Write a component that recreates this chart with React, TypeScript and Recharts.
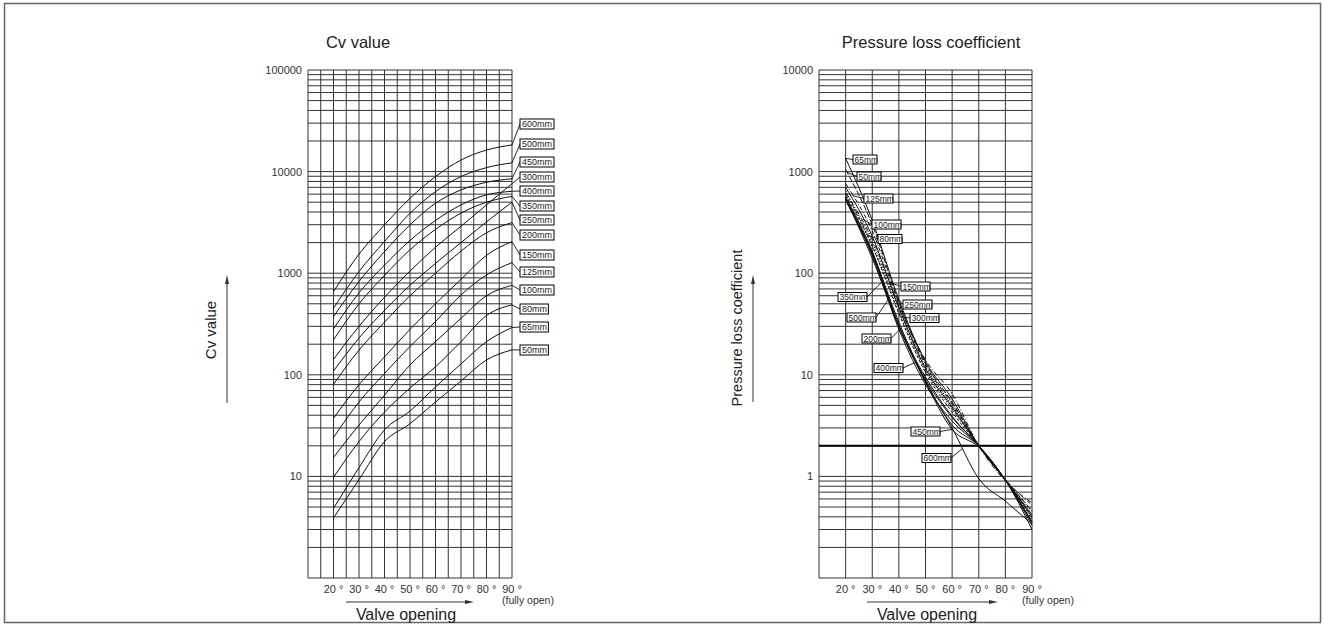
import { LineChart, Line, XAxis, YAxis, CartesianGrid, ReferenceDot, ReferenceLine } from 'recharts'

// valve opening (deg) where each curve is read
const openings = [20, 30, 40, 50, 60, 70, 80, 90]

// Cv value per nominal size
const cv50 = [3.9, 9.3, 22, 33, 54, 87, 140, 176]
const cv65 = [4.85, 12.2, 28.7, 44, 76, 128, 212, 292]
const cv80 = [9.8, 22, 43, 74, 120, 212, 383, 488]
const cv100 = [15.4, 32, 63, 125, 212, 360, 600, 760]
const cv125 = [24.1, 54, 103, 190, 334, 611, 961, 1270]
const cv150 = [37.3, 80, 150, 280, 500, 870, 1500, 2050]
const cv200 = [80.6, 175, 330, 600, 1000, 1650, 2500, 3150]
const cv250 = [109, 230, 430, 760, 1250, 2000, 3200, 5000]
const cv300 = [142, 300, 580, 1050, 1800, 2900, 4700, 7600]
const cv350 = [221, 500, 950, 1700, 2700, 3900, 5000, 5700]
const cv400 = [283, 640, 1200, 2100, 3300, 4700, 5900, 6400]
const cv450 = [374, 830, 1630, 2990, 4880, 6600, 7850, 8500]
const cv500 = [452, 1040, 2050, 3890, 6350, 8940, 10940, 12200]
const cv600 = [660, 1540, 2990, 5460, 8930, 13000, 16300, 18300]

// pressure loss coefficient per nominal size
const loss50 = [1050, 300, 52, 13, 5.4, 2.0, 0.93, 0.46]
const loss65 = [1350, 330, 55, 13.5, 5.8, 2.0, 0.92, 0.42]
const loss80 = [650, 185, 42, 11, 4.6, 2.0, 0.92, 0.38]
const loss100 = [700, 230, 46, 11.5, 4.8, 2.0, 0.92, 0.4]
const loss125 = [760, 260, 50, 12.5, 5.2, 2.0, 0.93, 0.52]
const loss150 = [620, 215, 48, 14, 6.5, 2.0, 0.9, 0.55]
const loss200 = [560, 165, 30, 9.0, 3.8, 2.0, 0.92, 0.35]
const loss250 = [600, 200, 45, 12, 5.0, 2.0, 0.92, 0.45]
const loss300 = [580, 185, 40, 10.5, 4.3, 2.0, 0.92, 0.4]
const loss350 = [540, 140, 30, 9.5, 3.9, 2.0, 0.92, 0.36]
const loss400 = [520, 150, 28, 8.0, 3.5, 2.0, 0.92, 0.33]
const loss450 = [530, 155, 31, 8.5, 2.9, 1.95, 0.92, 0.3]
const loss500 = [540, 160, 33, 8.8, 3.2, 2.0, 0.92, 0.35]
const loss600 = [560, 150, 30, 8.5, 3.0, 0.95, 0.57, 0.34]

const sizes = ['50mm', '65mm', '80mm', '100mm', '125mm', '150mm', '200mm', '250mm', '300mm', '350mm', '400mm', '450mm', '500mm', '600mm']
const cvValues = [cv50, cv65, cv80, cv100, cv125, cv150, cv200, cv250, cv300, cv350, cv400, cv450, cv500, cv600]
const lossValues = [loss50, loss65, loss80, loss100, loss125, loss150, loss200, loss250, loss300, loss350, loss400, loss450, loss500, loss600]

const degreeLabels = [20, 30, 40, 50, 60, 70, 80, 90]
const cvTickLabels = [10, 100, 1000, 10000, 100000]
const lossTickLabels = [1, 10, 100, 1000, 10000]

const W = 1324
const H = 626
const YW = 40 // y axis band width
const XH = 20 // x axis band height

const cvRows = openings.map((deg, i) => {
  const row: Record<string, number> = { deg }
  sizes.forEach((s, j) => (row[s] = cvValues[j][i]))
  return row
})
const lossRows = openings.map((deg, i) => {
  const row: Record<string, number> = { deg }
  sizes.forEach((s, j) => (row[s] = lossValues[j][i]))
  return row
})

const logTicks = (decades: number[], top: number) => [
  ...decades.flatMap((d) => [1, 2, 3, 4, 5, 6, 7, 8, 9].map((k) => k * d)),
  top,
]
const cvTicks = logTicks([1, 10, 100, 1000, 10000], 100000)
const lossTicks = logTicks([0.1, 1, 10, 100, 1000], 10000)

const fmtDeg = (v: number) => (degreeLabels.includes(v) ? `${v} °` : '')
const fmtLog = (labels: number[]) => (v: number) =>
  labels.some((l) => Math.abs(l - v) < 1e-9) ? String(v) : ''

// label placement (page pixels)
const cvTagY: Record<string, number> = {
  '600mm': 124, '500mm': 144, '450mm': 162, '300mm': 177, '400mm': 191, '350mm': 206, '250mm': 220,
  '200mm': 235, '150mm': 255, '125mm': 272, '100mm': 290, '80mm': 309, '65mm': 327, '50mm': 350,
}
const lossTags = [
  { size: '65mm', deg: 20, x: 853, y: 159.5, side: 'r' },
  { size: '50mm', deg: 20.5, x: 857, y: 176.5, side: 'r' },
  { size: '125mm', deg: 22.5, x: 864, y: 198.5, side: 'r' },
  { size: '100mm', deg: 26.5, x: 872, y: 224.5, side: 'r' },
  { size: '80mm', deg: 28, x: 878, y: 239, side: 'r' },
  { size: '150mm', deg: 36.5, x: 901, y: 286.5, side: 'r' },
  { size: '350mm', deg: 33.5, x: 838, y: 297, side: 'l' },
  { size: '250mm', deg: 37.5, x: 903, y: 304.5, side: 'r' },
  { size: '500mm', deg: 36.5, x: 847, y: 317.5, side: 'l' },
  { size: '300mm', deg: 40.5, x: 910, y: 318, side: 'r' },
  { size: '200mm', deg: 40.5, x: 862, y: 338.5, side: 'l' },
  { size: '400mm', deg: 46, x: 874, y: 368, side: 'l' },
  { size: '450mm', deg: 60, x: 911, y: 431.5, side: 'l' },
  { size: '600mm', deg: 64, x: 922, y: 458, side: 'l' },
]

const lossDash: Record<string, string | undefined> = {
  '50mm': '6 2',
  '80mm': '1.5 1.5',
  '125mm': '4 2 1 2',
  '150mm': '5 2 1 2',
  '250mm': '1.5 1.5',
  '300mm': '3 2',
}

const valueAt = (vals: number[], deg: number) => {
  let i = 0
  while (i < openings.length - 2 && deg > openings[i + 1]) i++
  const t = (deg - openings[i]) / (openings[i + 1] - openings[i])
  return Math.pow(10, Math.log10(vals[i]) + t * (Math.log10(vals[i + 1]) - Math.log10(vals[i])))
}

const GRID = '#333'
const INK = '#111'
const tickStyle = { fontSize: 11, fill: '#333' }

export default function App() {
  return (
    <div style={{ position: 'absolute', left: 0, top: 0, width: W, height: H, fontFamily: '"Liberation Sans", Arial, sans-serif', background: '#fff' }}>
      <div style={{ position: 'absolute', left: 0, top: 0 }}>
        <LineChart width={W} height={H} data={cvRows} margin={{ top: 70, right: W - 512, bottom: H - 578 - XH, left: 308 - YW }}>
          <CartesianGrid stroke={GRID} strokeWidth={1} />
          <XAxis dataKey="deg" type="number" domain={[10, 90]} ticks={[10, 15, 20, 25, 30, 35, 40, 45, 50, 55, 60, 65, 70, 75, 80, 85, 90]}
            interval={0} tickFormatter={fmtDeg} height={XH} tickSize={0} tickMargin={7} axisLine={false} tickLine={false}
            tick={tickStyle} />
          <YAxis type="number" scale="log" domain={[1, 100000]} ticks={cvTicks} allowDataOverflow interval={0}
            tickFormatter={fmtLog(cvTickLabels)} width={YW} tickSize={0} tickMargin={6} axisLine={false} tickLine={false}
            tick={tickStyle} />
          {sizes.map((s) => (
            <Line key={s} dataKey={s} type="monotone" stroke={INK} strokeWidth={1} dot={false} isAnimationActive={false} />
          ))}
          {sizes.map((s, j) => (
            <ReferenceDot key={'t' + s} x={90} y={cvValues[j][openings.length - 1]} ifOverflow="visible"
              shape={(p: any) => {
                const bw = s.length * 5.6 + 6
                const ly = cvTagY[s]
                return (
                  <g>
                    <line x1={p.cx} y1={p.cy} x2={520} y2={ly} stroke={INK} strokeWidth={0.9} />
                    <rect x={520} y={ly - 5} width={bw} height={10} fill="#fff" stroke="#000" strokeWidth={1} />
                    <text x={522} y={ly + 3.3} fontSize={9} fill="#222">{s}</text>
                  </g>
                )
              }} />
          ))}
        </LineChart>
      </div>

      <div style={{ position: 'absolute', left: 0, top: 0 }}>
        <LineChart width={W} height={H} data={lossRows} margin={{ top: 70, right: W - 1032, bottom: H - 578 - XH, left: 819 - YW }}>
          <CartesianGrid stroke={GRID} strokeWidth={1} />
          <XAxis dataKey="deg" type="number" domain={[10, 90]} ticks={[10, 20, 30, 40, 50, 60, 70, 80, 90]}
            interval={0} tickFormatter={fmtDeg} height={XH} tickSize={0} tickMargin={7} axisLine={false} tickLine={false}
            tick={tickStyle} />
          <YAxis type="number" scale="log" domain={[0.1, 10000]} ticks={lossTicks} allowDataOverflow interval={0}
            tickFormatter={fmtLog(lossTickLabels)} width={YW} tickSize={0} tickMargin={6} axisLine={false} tickLine={false}
            tick={tickStyle} />
          <ReferenceLine y={2} stroke="#000" strokeWidth={2} />
          {sizes.map((s) => (
            <Line key={s} dataKey={s} type="monotone" stroke={INK} strokeWidth={1} strokeDasharray={lossDash[s]}
              dot={false} isAnimationActive={false} />
          ))}
          {lossTags.map((t) => (
            <ReferenceDot key={'t' + t.size} x={t.deg} y={valueAt(lossValues[sizes.indexOf(t.size)], t.deg)} ifOverflow="visible"
              shape={(p: any) => {
                const bw = t.size.length * 5 + 4
                const lx = t.side === 'r' ? t.x : t.x + bw
                return (
                  <g>
                    <line x1={p.cx} y1={p.cy} x2={lx} y2={t.y} stroke={INK} strokeWidth={0.9} />
                    <rect x={t.x} y={t.y - 4.5} width={bw} height={9} fill="#fff" stroke="#000" strokeWidth={1} />
                    <text x={t.x + 1.5} y={t.y + 3} fontSize={8.5} fill="#222">{t.size}</text>
                  </g>
                )
              }} />
          ))}
        </LineChart>
      </div>

      <svg width={W} height={H} style={{ position: 'absolute', left: 0, top: 0, pointerEvents: 'none' }}>
        <rect x={4.5} y={3.5} width={1316} height={619} fill="none" stroke="#666" strokeWidth={1.5} />

        <text x={358} y={48} fontSize={16.5} textAnchor="middle" fill="#222">Cv value</text>
        <text x={931} y={48} fontSize={16.5} textAnchor="middle" fill="#222">Pressure loss coefficient</text>

        <text transform="translate(215.5,330) rotate(-90)" fontSize={15} textAnchor="middle" fill="#222">Cv value</text>
        <line x1={227} y1={403} x2={227} y2={280} stroke="#333" strokeWidth={1} />
        <polygon points="227,275 225,284 229,284" fill="#333" />

        <text transform="translate(742,328) rotate(-90)" fontSize={14.5} textAnchor="middle" fill="#222">Pressure loss coefficient</text>
        <line x1={753} y1={402} x2={753} y2={280} stroke="#333" strokeWidth={1} />
        <polygon points="753,275 751,284 755,284" fill="#333" />

        <line x1={346} y1={602} x2={466} y2={602} stroke="#333" strokeWidth={1} />
        <polygon points="474,602 465,600 465,604" fill="#333" />
        <text x={406} y={620} fontSize={16} textAnchor="middle" fill="#222">Valve opening</text>
        <text x={528} y={604} fontSize={10.5} textAnchor="middle" fill="#333">(fully open)</text>

        <line x1={867} y1={602} x2={990} y2={602} stroke="#333" strokeWidth={1} />
        <polygon points="998,602 989,600 989,604" fill="#333" />
        <text x={927} y={620} fontSize={16} textAnchor="middle" fill="#222">Valve opening</text>
        <text x={1048} y={604} fontSize={10.5} textAnchor="middle" fill="#333">(fully open)</text>
      </svg>
    </div>
  )
}
